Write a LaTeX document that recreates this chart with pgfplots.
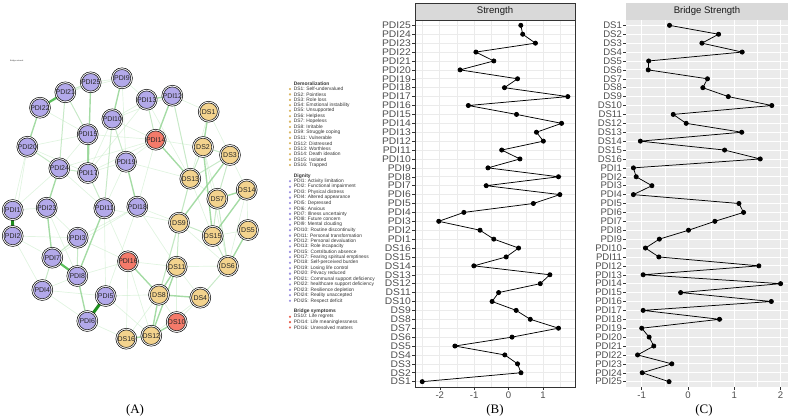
\documentclass[border=0pt]{standalone}
\usepackage{fontspec}
\setmainfont{Liberation Sans}
\newfontfamily\serifpanel{Liberation Serif}
\usepackage{pgfplots}
\pgfplotsset{compat=1.18}
\usepackage{pgfplotstable}

\definecolor{pdicol}{HTML}{B3A9EA}
\definecolor{dscol}{HTML}{F3D38E}
\definecolor{brcol}{HTML}{F47A6A}
\definecolor{pdidot}{HTML}{9A8FE0}
\definecolor{dsdot}{HTML}{D9B560}
\definecolor{brdot}{HTML}{E8604F}
\definecolor{gridgray}{HTML}{EBEBEB}
\definecolor{stripgray}{HTML}{D9D9D9}
\definecolor{grey20}{HTML}{333333}
\definecolor{grey30}{HTML}{4D4D4D}
\definecolor{edgeDark}{HTML}{1F8F1F}
\definecolor{edgeMid}{HTML}{5CBF5C}
\definecolor{edgeM}{HTML}{95D595}
\definecolor{edgeL}{HTML}{B5E2B5}
\definecolor{edgeF}{HTML}{CDEDCD}

% ---------- network nodes (layout coordinates) ----------
\pgfplotstableread{
x y lab
12.7 210 PDI1
12.7 236 PDI2
77.7 237.7 PDI3
42.3 290 PDI4
105.7 296 PDI5
87.3 321 PDI6
52.3 257.7 PDI7
77.3 276 PDI8
122 78.3 PDI9
112.3 119.3 PDI10
104.3 208.3 PDI11
172.3 95.7 PDI12
146.7 99.7 PDI13
87.7 134.3 PDI15
88 173 PDI17
137.3 206.7 PDI18
126 161.7 PDI19
27.3 146.7 PDI20
65.3 92.3 PDI21
40 107.7 PDI22
46.7 207.7 PDI23
59.3 168.3 PDI24
90.7 82.3 PDI25
}\pdinodes

\pgfplotstableread{
x y lab
208.7 111.7 DS1
203 147 DS2
230 155 DS3
200.3 297.7 DS4
248 230 DS5
228 266 DS6
217.3 198.7 DS7
159 294.7 DS8
179 222.7 DS9
176.7 266.7 DS11
151.3 335.7 DS12
190.3 178.7 DS13
246.7 189.7 DS14
212.7 236 DS15
126.3 338.7 DS16
}\dsnodes

\pgfplotstableread{
x y lab
176.7 322 DS10
155.7 139.7 PDI14
128 261.3 PDI16
}\brnodes

% ---------- legend entries ----------
\pgfplotstableread[col sep=comma]{
x,y,lab
290,89.0,DS1: Self-undervalued
290,94.4,DS2: Pointless
290,99.9,DS3: Role loss
290,105.3,DS4: Emotional instability
290,110.7,DS5: Unsupported
290,116.2,DS6: Helpless
290,121.6,DS7: Hopeless
290,127.0,DS8: Irritable
290,132.4,DS9: Struggle coping
290,137.9,DS11: Vulnerable
290,143.3,DS12: Distressed
290,148.7,DS13: Worthless
290,154.2,DS14: Death ideation
290,159.6,DS15: Isolated
290,165.0,DS16: Trapped
}\legds

\pgfplotstableread[col sep=comma]{
x,y,lab
290,181.3,PDI1: Activity limitation
290,186.7,PDI2: Functional impairment
290,192.2,PDI3: Physical distress
290,197.6,PDI4: Altered appearance
290,203.0,PDI5: Depressed
290,208.5,PDI6: Anxious
290,213.9,PDI7: Illness uncertainty
290,219.3,PDI8: Future concern
290,224.7,PDI9: Mental clouding
290,230.2,PDI10: Routine discontinuity
290,235.6,PDI11: Personal transformation
290,241.0,PDI12: Personal devaluation
290,246.5,PDI13: Role incapacity
290,251.9,PDI15: Contribution absence
290,257.3,PDI17: Fearing spiritual emptiness
290,262.7,PDI18: Self-perceived burden
290,268.2,PDI19: Losing life control
290,273.6,PDI20: Privacy reduced
290,279.0,PDI21: Communal support deficiency
290,284.5,PDI22: healthcare support deficiency
290,289.9,PDI23: Resilience depletion
290,295.3,PDI24: Reality unaccepted
290,300.8,PDI25: Respect deficit
}\legpdi

\pgfplotstableread[col sep=comma]{
x,y,lab
290,316.7,DS10: Life regrets
290,322.1,PDI14: Life meaninglessness
290,327.5,PDI16: Unresolved matters
}\legbr

% ---------- centrality values (index 0 = DS1 ... 40 = PDI25) ----------
\pgfplotstableread{
lab idx val
DS1 0 -2.51
DS2 1 0.36
DS3 2 0.26
DS4 3 -0.11
DS5 4 -1.56
DS6 5 0.10
DS7 6 1.45
DS8 7 0.63
DS9 8 0.22
DS10 9 -0.48
DS11 10 -0.29
DS12 11 0.92
DS13 12 1.20
DS14 13 -1.01
DS15 14 -0.07
DS16 15 0.29
PDI1 16 -0.43
PDI2 17 -0.83
PDI3 18 -2.03
PDI4 19 -1.30
PDI5 20 0.72
PDI6 21 1.49
PDI7 22 -0.65
PDI8 23 1.45
PDI9 24 -0.60
PDI10 25 0.33
PDI11 26 -0.20
PDI12 27 1.01
PDI13 28 0.81
PDI14 29 1.54
PDI15 30 0.23
PDI16 31 -1.17
PDI17 32 1.72
PDI18 33 -0.12
PDI19 34 0.26
PDI20 35 -1.41
PDI21 36 -0.43
PDI22 37 -0.95
PDI23 38 0.78
PDI24 39 0.41
PDI25 40 0.355
}\strength

\pgfplotstableread{
lab idx val
DS1 0 -0.40
DS2 1 0.66
DS3 2 0.30
DS4 3 1.17
DS5 4 -0.85
DS6 5 -0.86
DS7 6 0.42
DS8 7 0.32
DS9 8 0.87
DS10 9 1.81
DS11 10 -0.32
DS12 11 -0.04
DS13 12 1.16
DS14 13 -1.03
DS15 14 0.79
DS16 15 1.56
PDI1 16 -1.18
PDI2 17 -1.12
PDI3 18 -0.78
PDI4 19 -1.18
PDI5 20 1.10
PDI6 21 1.20
PDI7 22 0.58
PDI8 23 0.01
PDI9 24 -0.62
PDI10 25 -0.92
PDI11 26 -0.63
PDI12 27 1.53
PDI13 28 -0.97
PDI14 29 2.00
PDI15 30 -0.16
PDI16 31 1.80
PDI17 32 -0.97
PDI18 33 0.68
PDI19 34 -1.00
PDI20 35 -0.84
PDI21 36 -0.74
PDI22 37 -1.09
PDI23 38 -0.35
PDI24 39 -0.99
PDI25 40 -0.41
}\bridgestrength

\pgfplotsset{
  eS1/.style={color=edgeDark, line width=3pt, mark=none, forget plot},
  eS2/.style={color=edgeMid, line width=2.2pt, mark=none, forget plot},
  eM/.style={color=edgeM, line width=1.4pt, opacity=0.85, mark=none, forget plot},
  eL/.style={color=edgeL, line width=1pt, opacity=0.75, mark=none, forget plot},
  eF/.style={color=edgeF, line width=0.7pt, opacity=0.6, mark=none, forget plot},
  ggpanel/.style={
    scale only axis, height=367bp,
    ymin=-0.6, ymax=40.6,
    ytick={0,...,40},
    yticklabels={DS1,DS2,DS3,DS4,DS5,DS6,DS7,DS8,DS9,DS10,DS11,DS12,DS13,DS14,DS15,DS16,
      PDI1,PDI2,PDI3,PDI4,PDI5,PDI6,PDI7,PDI8,PDI9,PDI10,PDI11,PDI12,PDI13,PDI14,PDI15,
      PDI16,PDI17,PDI18,PDI19,PDI20,PDI21,PDI22,PDI23,PDI24,PDI25},
    tick align=outside, tick pos=left,
    major tick length=2.75pt, minor tick length=0pt,
    tick style={grey20, line width=0.5pt},
    ticklabel style={font=\fontsize{9.6}{10}\selectfont, text=grey30},
    yticklabel style={inner sep=1.2pt},
    xticklabel style={inner sep=1.5pt},
    /pgf/number format/assume math mode=true,
    grid=both, ymajorgrids=true, yminorgrids=false,
    clip=false,
  },
}

\begin{document}
\begin{tikzpicture}

% ================= (A) network =================
\begin{axis}[
  at={(0bp,0bp)}, anchor=south west,
  scale only axis, width=380bp, height=420bp,
  xmin=0, xmax=380, ymin=0, ymax=420, y dir=reverse,
  axis lines=none, clip=false,
]
% edges, weakest first
\addplot[eF] coordinates {(87.7,134.3) (155.7,139.7)};
\addplot[eF] coordinates {(112.3,119.3) (155.7,139.7)};
\addplot[eF] coordinates {(88,173) (155.7,139.7)};
\addplot[eF] coordinates {(59.3,168.3) (155.7,139.7)};
\addplot[eF] coordinates {(122,78.3) (146.7,99.7)};
\addplot[eF] coordinates {(90.7,82.3) (122,78.3)};
\addplot[eF] coordinates {(65.3,92.3) (122,78.3)};
\addplot[eF] coordinates {(40,107.7) (87.7,134.3)};
\addplot[eF] coordinates {(27.3,146.7) (87.7,134.3)};
\addplot[eF] coordinates {(27.3,146.7) (88,173)};
\addplot[eF] coordinates {(12.7,236) (77.7,237.7)};
\addplot[eF] coordinates {(77.7,237.7) (137.3,206.7)};
\addplot[eF] coordinates {(52.3,257.7) (137.3,206.7)};
\addplot[eF] coordinates {(42.3,290) (105.7,296)};
\addplot[eF] coordinates {(42.3,290) (77.3,276)};
\addplot[eF] coordinates {(87.3,321) (126.3,338.7)};
\addplot[eF] coordinates {(105.7,296) (159,294.7)};
\addplot[eF] coordinates {(105.7,296) (151.3,335.7)};
\addplot[eF] coordinates {(77.3,276) (128,261.3)};
\addplot[eF] coordinates {(104.3,208.3) (128,261.3)};
\addplot[eF] coordinates {(137.3,206.7) (179,222.7)};
\addplot[eF] coordinates {(128,261.3) (176.7,266.7)};
\addplot[eF] coordinates {(176.7,266.7) (228,266)};
\addplot[eF] coordinates {(176.7,266.7) (200.3,297.7)};
\addplot[eF] coordinates {(179,222.7) (228,266)};
\addplot[eF] coordinates {(190.3,178.7) (217.3,198.7)};
\addplot[eF] coordinates {(208.7,111.7) (230,155)};
\addplot[eF] coordinates {(208.7,111.7) (190.3,178.7)};
\addplot[eF] coordinates {(203,147) (217.3,198.7)};
\addplot[eF] coordinates {(246.7,189.7) (248,230)};
\addplot[eF] coordinates {(212.7,236) (248,230)};
\addplot[eF] coordinates {(176.7,322) (200.3,297.7)};
\addplot[eF] coordinates {(176.7,322) (159,294.7)};
\addplot[eF] coordinates {(176.7,322) (176.7,266.7)};
\addplot[eF] coordinates {(126.3,338.7) (159,294.7)};
\addplot[eF] coordinates {(126,161.7) (104.3,208.3)};
\addplot[eF] coordinates {(126,161.7) (190.3,178.7)};
\addplot[eF] coordinates {(88,173) (126,161.7)};
\addplot[eF] coordinates {(59.3,168.3) (87.7,134.3)};
\addplot[eF] coordinates {(59.3,168.3) (104.3,208.3)};
\addplot[eF] coordinates {(46.7,207.7) (77.7,237.7)};
\addplot[eF] coordinates {(46.7,207.7) (77.3,276)};
\addplot[eF] coordinates {(12.7,210) (27.3,146.7)};
\addplot[eF] coordinates {(12.7,210) (46.7,207.7)};
\addplot[eF] coordinates {(12.7,236) (52.3,257.7)};
\addplot[eF] coordinates {(12.7,236) (42.3,290)};
\addplot[eF] coordinates {(172.3,95.7) (112.3,119.3)};
\addplot[eF] coordinates {(146.7,99.7) (112.3,119.3)};
\addplot[eF] coordinates {(122,78.3) (126,161.7)};
\addplot[eF] coordinates {(155.7,139.7) (126,161.7)};
\addplot[eF] coordinates {(155.7,139.7) (137.3,206.7)};
\addplot[eF] coordinates {(172.3,95.7) (208.7,111.7)};
\addplot[eF] coordinates {(155.7,139.7) (203,147)};
\addplot[eF] coordinates {(146.7,99.7) (190.3,178.7)};
\addplot[eF] coordinates {(40,107.7) (90.7,82.3)};
\addplot[eF] coordinates {(27.3,146.7) (12.7,236)};
\addplot[eF] coordinates {(112.3,119.3) (88,173)};
\addplot[eF] coordinates {(146.7,99.7) (88,173)};
\addplot[eF] coordinates {(77.7,237.7) (128,261.3)};
\addplot[eF] coordinates {(104.3,208.3) (179,222.7)};
\addplot[eF] coordinates {(137.3,206.7) (176.7,266.7)};
\addplot[eF] coordinates {(87.3,321) (42.3,290)};
\addplot[eF] coordinates {(246.7,189.7) (228,266)};
\addplot[eF] coordinates {(230,155) (246.7,189.7)};
\addplot[eF] coordinates {(190.3,178.7) (212.7,236)};
\addplot[eF] coordinates {(151.3,335.7) (200.3,297.7)};
\addplot[eF] coordinates {(128,261.3) (126.3,338.7)};
\addplot[eF] coordinates {(128,261.3) (151.3,335.7)};
\addplot[eF] coordinates {(203,147) (228,266)};
\addplot[eF] coordinates {(190.3,178.7) (159,294.7)};
\addplot[eF] coordinates {(104.3,208.3) (105.7,296)};
\addplot[eF] coordinates {(137.3,206.7) (105.7,296)};
\addplot[eF] coordinates {(12.7,210) (59.3,168.3)};
% lighter edges
\addplot[eL] coordinates {(112.3,119.3) (104.3,208.3)};
\addplot[eL] coordinates {(59.3,168.3) (88,173)};
\addplot[eL] coordinates {(172.3,95.7) (190.3,178.7)};
\addplot[eL] coordinates {(146.7,99.7) (155.7,139.7)};
\addplot[eL] coordinates {(203,147) (190.3,178.7)};
\addplot[eL] coordinates {(230,155) (190.3,178.7)};
\addplot[eL] coordinates {(217.3,198.7) (212.7,236)};
\addplot[eL] coordinates {(212.7,236) (228,266)};
\addplot[eL] coordinates {(230,155) (217.3,198.7)};
\addplot[eL] coordinates {(179,222.7) (212.7,236)};
\addplot[eL] coordinates {(179,222.7) (159,294.7)};
\addplot[eL] coordinates {(112.3,119.3) (126,161.7)};
\addplot[eL] coordinates {(90.7,82.3) (65.3,92.3)};
\addplot[eL] coordinates {(42.3,290) (52.3,257.7)};
\addplot[eL] coordinates {(27.3,146.7) (59.3,168.3)};
\addplot[eL] coordinates {(65.3,92.3) (87.7,134.3)};
\addplot[eL] coordinates {(77.7,237.7) (77.3,276)};
\addplot[eL] coordinates {(203,147) (230,155)};
\addplot[eL] coordinates {(228,266) (200.3,297.7)};
\addplot[eL] coordinates {(88,173) (104.3,208.3)};
\addplot[eL] coordinates {(190.3,178.7) (179,222.7)};
\addplot[eL] coordinates {(176.7,266.7) (179,222.7)};
\addplot[eL] coordinates {(59.3,168.3) (65.3,92.3)};
\addplot[eL] coordinates {(52.3,257.7) (77.7,237.7)};
\addplot[eL] coordinates {(217.3,198.7) (228,266)};
% medium edges
\addplot[eM] coordinates {(40,107.7) (27.3,146.7)};
\addplot[eM] coordinates {(59.3,168.3) (46.7,207.7)};
\addplot[eM] coordinates {(87.7,134.3) (88,173)};
\addplot[eM] coordinates {(122,78.3) (112.3,119.3)};
\addplot[eM] coordinates {(172.3,95.7) (155.7,139.7)};
\addplot[eM] coordinates {(155.7,139.7) (190.3,178.7)};
\addplot[eM] coordinates {(208.7,111.7) (203,147)};
\addplot[eM] coordinates {(217.3,198.7) (246.7,189.7)};
\addplot[eM] coordinates {(246.7,189.7) (212.7,236)};
\addplot[eM] coordinates {(248,230) (228,266)};
\addplot[eM] coordinates {(159,294.7) (200.3,297.7)};
\addplot[eM] coordinates {(159,294.7) (176.7,266.7)};
\addplot[eM] coordinates {(176.7,266.7) (151.3,335.7)};
\addplot[eM] coordinates {(151.3,335.7) (126.3,338.7)};
\addplot[eM] coordinates {(128,261.3) (159,294.7)};
\addplot[eM] coordinates {(77.3,276) (87.3,321)};
\addplot[eM] coordinates {(104.3,208.3) (77.3,276)};
\addplot[eM] coordinates {(137.3,206.7) (126,161.7)};
\addplot[eM] coordinates {(90.7,82.3) (88,173)};
\addplot[eM] coordinates {(146.7,99.7) (172.3,95.7)};
\addplot[eM] coordinates {(230,155) (179,222.7)};
\addplot[eM] coordinates {(203,147) (212.7,236)};
\addplot[eM] coordinates {(159,294.7) (151.3,335.7)};
\addplot[eM] coordinates {(52.3,257.7) (46.7,207.7)};
\addplot[eM] coordinates {(176.7,322) (151.3,335.7)};
% strongest edges
\addplot[eS2] coordinates {(65.3,92.3) (40,107.7)};
\addplot[eS2] coordinates {(52.3,257.7) (77.3,276)};
\addplot[eS1] coordinates {(105.7,296) (87.3,321)};
\addplot[eS1] coordinates {(12.7,210) (12.7,236)};

% nodes: outer ring, then filled disc with label
\pgfplotsset{nodering/.style={only marks, mark=*, mark size=10.5pt,
  mark options={fill=white, draw=black, line width=0.5pt}, forget plot}}
\addplot[nodering] table[x=x, y=y] {\pdinodes};
\addplot[nodering] table[x=x, y=y] {\dsnodes};
\addplot[nodering] table[x=x, y=y] {\brnodes};
\pgfplotsset{nodedisc/.style={only marks, mark=*, mark size=8.8pt,
  mark options={fill=#1, draw=black!85, line width=0.6pt},
  nodes near coords, point meta=explicit symbolic,
  every node near coord/.append style={anchor=center, inner sep=0pt,
    font=\fontsize{7}{7}\selectfont, text=black!85},
  forget plot}}
\addplot[nodedisc=pdicol] table[x=x, y=y, meta=lab] {\pdinodes};
\addplot[nodedisc=dscol] table[x=x, y=y, meta=lab] {\dsnodes};
\addplot[nodedisc=brcol] table[x=x, y=y, meta=lab] {\brnodes};

% legend
\pgfplotsset{legentry/.style={only marks, mark=*, mark size=0.9pt,
  mark options={fill=#1, draw=#1},
  nodes near coords, point meta=explicit symbolic,
  every node near coord/.append style={anchor=west, inner sep=0pt, xshift=3.6pt,
    font=\fontsize{4.9}{5}\selectfont, text=black!80},
  forget plot}}
\addplot[legentry=dsdot] table[x=x, y=y, meta=lab] {\legds};
\addplot[legentry=pdidot] table[x=x, y=y, meta=lab] {\legpdi};
\addplot[legentry=brdot] table[x=x, y=y, meta=lab] {\legbr};
\node[anchor=west, inner sep=0pt, font=\fontsize{5}{5}\selectfont\bfseries, text=black!80]
  at (axis cs:293.6,84) {Demoralization};
\node[anchor=west, inner sep=0pt, font=\fontsize{5}{5}\selectfont\bfseries, text=black!80]
  at (axis cs:293.6,176) {Dignity};
\node[anchor=west, inner sep=0pt, font=\fontsize{5}{5}\selectfont\bfseries, text=black!80]
  at (axis cs:293.6,311.3) {Bridge symptoms};
\node[anchor=west, inner sep=0pt, font=\fontsize{2}{2}\selectfont, text=black!80]
  at (axis cs:10,61) {Bridge network};
\end{axis}

% ================= (B) strength =================
\begin{axis}[
  ggpanel,
  at={(415bp,33bp)}, anchor=south west, width=160bp,
  xmin=-2.72, xmax=1.93,
  xtick={-2,-1,0,1}, minor xtick={-2.5,-1.5,-0.5,0.5,1.5},
  major grid style={gridgray, line width=0.6pt},
  minor grid style={gridgray, line width=0.35pt},
  axis line style={grey20, line width=0.5pt},
  yticklabel style={xscale=1.08},
]
\addplot[black, line width=0.75pt, mark=*, mark size=2.1pt] table[x=val, y=idx] {\strength};
\draw[fill=stripgray, draw=grey20, line width=0.5pt]
  (rel axis cs:0,1) rectangle ([yshift=17bp]rel axis cs:1,1);
\node[font=\fontsize{9.6}{10}\selectfont, text=black!90]
  at ([yshift=8.5bp]rel axis cs:0.5,1) {Strength};
\end{axis}

% ================= (C) bridge strength =================
% grey panel background
\fill[gridgray] (626bp,33bp) rectangle (788bp,400bp);
\fill[stripgray] (626bp,400bp) rectangle (788bp,417bp);
\begin{axis}[
  ggpanel,
  at={(626bp,33bp)}, anchor=south west, width=162bp,
  xmin=-1.34, xmax=2.16, y dir=reverse,
  xtick={-1,0,1,2}, minor xtick={-0.5,0.5,1.5},
  major grid style={white, line width=0.8pt},
  minor grid style={white, line width=0.4pt},
  axis line style={draw=none},
]
\addplot[black, line width=0.75pt, mark=*, mark size=2.1pt] table[x=val, y=idx] {\bridgestrength};
\end{axis}
\node[font=\fontsize{9.6}{10}\selectfont, text=black!90] at (707bp,408.5bp) {Bridge Strength};

% panel letters
\node[font=\serifpanel\fontsize{13}{13}\selectfont] at (135bp,10bp) {(A)};
\node[font=\serifpanel\fontsize{13}{13}\selectfont] at (495bp,10bp) {(B)};
\node[font=\serifpanel\fontsize{13}{13}\selectfont] at (704bp,10bp) {(C)};

\pgfresetboundingbox
\path (0bp,0bp) rectangle (789bp,420bp);
\end{tikzpicture}
\end{document}
